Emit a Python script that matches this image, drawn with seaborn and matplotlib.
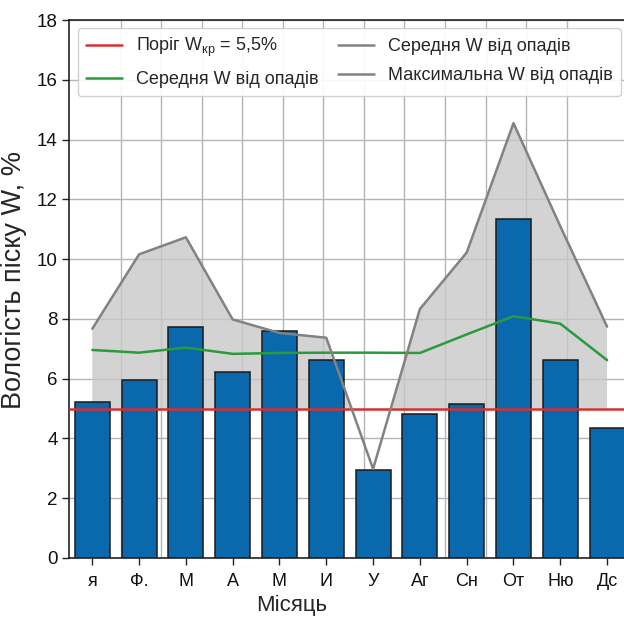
import numpy as np
import pandas as pd
import matplotlib
matplotlib.use("Agg")
import matplotlib.pyplot as plt
from matplotlib.lines import Line2D
import seaborn as sns

months = ["я", "Ф.", "М", "А", "М", "И", "У", "Аг", "Сн", "От", "Ню", "Дс"]
sand_moisture = [5.22, 5.95, 7.72, 6.22, 7.58, 6.62, 2.96, 4.81, 5.16, 11.33, 6.62, 4.36]
mean_precip_w = [6.96, 6.87, 7.04, 6.83, 6.86, 6.87, 6.87, 6.86, 7.48, 8.09, 7.84, 6.62]
max_precip_w = [7.67, 10.16, 10.73, 7.98, 7.53, 7.37, 2.98, 8.33, 10.22, 14.55, 11.1, 7.74]
threshold = 5.0
yticks = list(range(0, 19, 2))

df = pd.DataFrame({"idx": np.arange(len(months)), "month": months,
                   "w": sand_moisture, "mean": mean_precip_w, "max": max_precip_w})

sns.set_theme(style="whitegrid")
plt.rcParams["font.family"] = ["Liberation Sans", "DejaVu Sans"]

fig = plt.figure(figsize=(6.24, 6.18), dpi=100)
ax = fig.add_axes([0.1104, 0.0971, 0.90, 0.8705])

x = df["idx"].to_numpy()
ax.fill_between(x, threshold, df["max"], where=df["max"] >= threshold,
                interpolate=True, color="#c8c8c8", alpha=0.8, linewidth=0, zorder=1)

sns.barplot(data=df, x="idx", y="w", ax=ax, color="#0a68ad", saturation=1,
            width=0.75, edgecolor="#1a1a1a", linewidth=1.1, zorder=2)

ax.axhline(threshold, color="#d62f2f", lw=1.8, zorder=4)
sns.lineplot(x=x, y=df["mean"], ax=ax, color="#2a9a3c", lw=1.8, zorder=5)
sns.lineplot(x=x, y=df["max"], ax=ax, color="#828282", lw=1.8, zorder=5)

ax.set_xlim(-0.5, 11.5)
ax.set_ylim(0, 18)
ax.set_yticks(yticks)
ax.set_xticks(x)
ax.set_xticklabels(months, fontsize=13)
ax.set_xticks(np.linspace(0.61, 11.0, 13), minor=True)

ax.grid(False)
ax.grid(True, axis="y", which="major", color="#b4b4b4", lw=1.0, zorder=0)
ax.grid(True, axis="x", which="minor", color="#b4b4b4", lw=1.0, zorder=0)
ax.set_axisbelow(True)

for s in ax.spines.values():
    s.set_color("#222222")
    s.set_linewidth(1.2)

ax.tick_params(axis="y", which="major", labelsize=13.5, pad=3)
ax.tick_params(axis="x", which="major", pad=6)
ax.tick_params(axis="both", which="major", length=5, width=1,
               color="#222222", left=True, bottom=True, labelcolor="#111111")
ax.tick_params(axis="x", which="minor", length=0)

ax.set_xlabel("Місяць", fontsize=16)
ax.xaxis.set_label_coords(0.397, -0.068)
ax.set_ylabel("Вологість піску W, %", fontsize=19.5)
ax.yaxis.set_label_coords(-0.075, 0.517)

handles = [
    Line2D([], [], color="#d62f2f", lw=1.8),
    Line2D([], [], color="#2a9a3c", lw=1.8),
    Line2D([], [], color="#828282", lw=1.8),
    Line2D([], [], color="#828282", lw=1.8),
]
labels = ["Поріг W$_{\\mathregular{кр}}$ = 5,5%", "Середня W від опадів",
          "Середня W від опадів", "Максимальна W від опадів"]
leg = ax.legend(handles, labels, ncol=2, loc="upper left",
                prop={"size": 13}, borderaxespad=0,
                bbox_to_anchor=(0.016, 0.985), frameon=True, framealpha=0.9,
                edgecolor="#cccccc", handlelength=2.0, columnspacing=1.1,
                borderpad=0.45, labelspacing=0.65, handletextpad=0.75)
leg.set_zorder(10)

fig.savefig("out.png", dpi=100)
